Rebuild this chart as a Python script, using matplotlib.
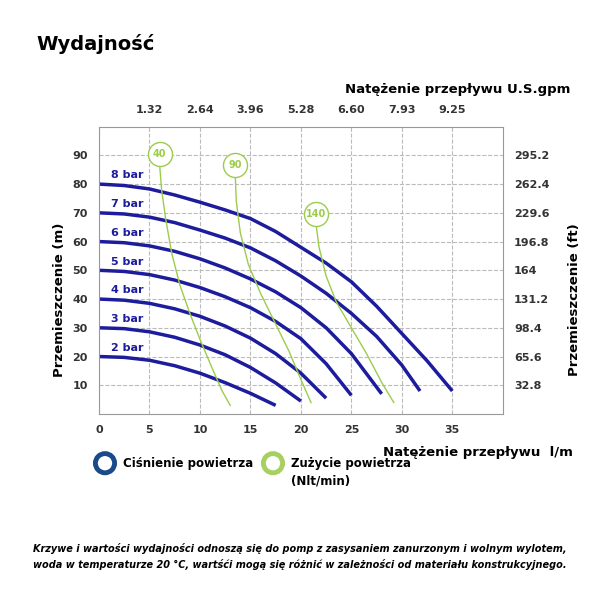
import numpy as np
import matplotlib.pyplot as plt

# pressure curves (flow l/m, head m)
bar_labels = ["2 bar", "3 bar", "4 bar", "5 bar", "6 bar", "7 bar", "8 bar"]
bar_x = [
    [0, 2.5, 5, 7.5, 10, 12.5, 15, 17.5],
    [0, 2.5, 5, 7.5, 10, 12.5, 15, 17.5, 20],
    [0, 2.5, 5, 7.5, 10, 12.5, 15, 17.5, 20, 22.5],
    [0, 2.5, 5, 7.5, 10, 12.5, 15, 17.5, 20, 22.5, 25],
    [0, 2.5, 5, 7.5, 10, 12.5, 15, 17.5, 20, 22.5, 25, 28],
    [0, 2.5, 5, 7.5, 10, 12.5, 15, 17.5, 20, 22.5, 25, 27.5, 30, 31.8],
    [0, 2.5, 5, 7.5, 10, 12.5, 15, 17.5, 20, 22.5, 25, 27.5, 30, 32.5, 35],
]
bar_y = [
    [20, 19.7, 18.7, 16.8, 14.2, 10.9, 7.2, 3],
    [30, 29.7, 28.6, 26.7, 24, 20.6, 16.2, 10.8, 4.5],
    [40, 39.6, 38.5, 36.6, 34, 30.6, 26.4, 21, 14.2, 5.5],
    [50, 49.6, 48.5, 46.6, 44, 40.8, 37, 32.2, 26.2, 17.5, 6.5],
    [60, 59.6, 58.5, 56.6, 54, 50.8, 47, 42.5, 37, 30, 21, 7],
    [70, 69.6, 68.5, 66.6, 64, 61.2, 57.8, 53.3, 48, 42, 35, 27, 17, 8],
    [80, 79.5, 78.3, 76.2, 73.7, 71, 68, 63.5, 58, 52.5, 46, 37.5, 28, 18.5, 8],
]

# air consumption curves (Nlt/min)
air_labels = ["40", "90", "140"]
air_x = [
    [6, 6.2, 6.6, 7.2, 8, 9, 10, 11.2, 12.2, 13],
    [13.5, 13.6, 14, 14.8, 16, 17.4, 18.8, 20, 21],
    [21.5, 21.8, 22.5, 23.5, 25, 26.5, 28, 29.2],
]
air_y = [
    [87, 78, 68, 56, 45, 35, 26, 16, 8, 3],
    [83, 74, 63, 52, 42, 32, 22, 12, 4],
    [66, 58, 48, 39, 30, 21, 11, 4],
]

x_ticks = [0, 5, 10, 15, 20, 25, 30, 35]
y_ticks = [10, 20, 30, 40, 50, 60, 70, 80, 90]
gpm_labels = ["1.32", "2.64", "3.96", "5.28", "6.60", "7.93", "9.25"]
ft_labels = ["32.8", "65.6", "98.4", "131.2", "164", "196.8", "229.6", "262.4", "295.2"]

blue = "#1c1c9c"
green = "#9ccc4c"
tick_col = "#333333"

fig = plt.figure(figsize=(6, 6), dpi=100)
ax = fig.add_axes([0.165, 0.31, 0.673, 0.479])
ax.set_xlim(0, 40)
ax.set_ylim(0, 100)
ax.set_xticks(x_ticks)
ax.set_yticks(y_ticks)
ax.grid(True, color="#bbbbbb", linestyle="--", linewidth=0.8)
for s in ax.spines.values():
    s.set_color("#999999")
ax.tick_params(length=0, labelsize=8, colors=tick_col, pad=8)
for lab in ax.get_xticklabels() + ax.get_yticklabels():
    lab.set_fontweight("bold")

for lbl, xs, ys in zip(bar_labels, bar_x, bar_y):
    ax.plot(xs, ys, color=blue, lw=2.5, solid_capstyle="butt")
    ax.text(1.2, ys[0] + 2, lbl, color=blue, fontsize=8, fontweight="bold")

for lbl, xs, ys in zip(air_labels, air_x, air_y):
    ax.plot(xs, ys, color=green, lw=1)
    ax.scatter([xs[0]], [ys[0] + 3.5], s=300, facecolor="white", edgecolor=green, lw=1, zorder=3)
    ax.text(xs[0], ys[0] + 3.5, lbl, color=green, fontsize=7, fontweight="bold",
            ha="center", va="center", zorder=4)

# top axis (gpm) and right axis (ft)
ax_top = ax.twiny()
ax_top.set_xlim(ax.get_xlim())
ax_top.set_xticks(x_ticks[1:])
ax_top.set_xticklabels(gpm_labels, fontsize=8, fontweight="bold", color=tick_col)
ax_top.tick_params(length=0, pad=8)
ax_right = ax.twinx()
ax_right.set_ylim(ax.get_ylim())
ax_right.set_yticks(y_ticks)
ax_right.set_yticklabels(ft_labels, fontsize=8, fontweight="bold", color=tick_col)
ax_right.tick_params(length=0, pad=8)
for a in (ax_top, ax_right):
    for s in a.spines.values():
        s.set_visible(False)

fig.text(0.06, 0.917, "Wydajność", fontsize=14, fontweight="bold")
fig.text(0.95, 0.845, "Natężenie przepływu U.S.gpm", fontsize=9.5, fontweight="bold", ha="right")
fig.text(0.955, 0.24, "Natężenie przepływu  l/m", fontsize=9.5, fontweight="bold", ha="right")
fig.text(0.1, 0.5, "Przemieszczenie (m)", fontsize=9.5, fontweight="bold", rotation=90,
         ha="center", va="center")
fig.text(0.958, 0.5, "Przemieszczenie (ft)", fontsize=9.5, fontweight="bold", rotation=90,
         ha="center", va="center")

# legend rings
fig.patches.append(plt.Circle((0.175, 0.228), 0.016, transform=fig.transFigure,
                              fill=False, ec="#1a4a8a", lw=3.5))
fig.text(0.205, 0.228, "Ciśnienie powietrza", fontsize=8.5, fontweight="bold", va="center")
fig.patches.append(plt.Circle((0.455, 0.228), 0.016, transform=fig.transFigure,
                              fill=False, ec="#a8d060", lw=3.5))
fig.text(0.485, 0.228, "Zużycie powietrza", fontsize=8.5, fontweight="bold", va="center")
fig.text(0.485, 0.198, "(Nlt/min)", fontsize=8.5, fontweight="bold", va="center")

fig.text(0.5, 0.072, "Krzywe i wartości wydajności odnoszą się do pomp z zasysaniem zanurzonym i wolnym wylotem,\n"
         "woda w temperaturze 20 °C, wartśći mogą się różnić w zależności od materiału konstrukcyjnego.",
         fontsize=7, fontweight="bold", style="italic", ha="center", va="center", linespacing=1.6)

fig.savefig("out.png", dpi=100)
